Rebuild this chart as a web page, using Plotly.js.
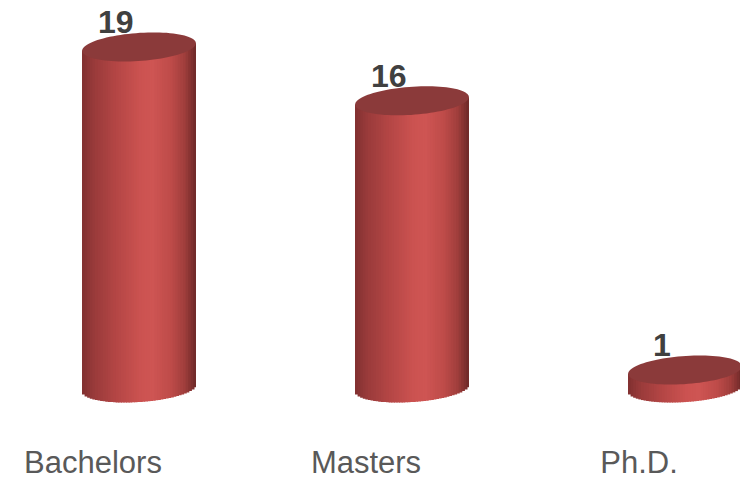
<!DOCTYPE html>
<html>
<head>
<meta charset="utf-8">
<script src="https://cdn.plot.ly/plotly-3.0.1.min.js"></script>
<style>html,body{margin:0;padding:0;background:#fff;}#chart{width:740px;height:481px;}</style>
</head>
<body>
<div id="chart"></div>
<script>
// ---- data ----
const categories = ['Bachelors', 'Masters', 'Ph.D.'];
const counts = [19, 16, 1];
const valueLabels = ['19', '16', '1'];

// ---- layout geometry (pixels) ----
const FIG_W = 740, FIG_H = 481;
const PLOT_BOTTOM = 441;      // pixel row of plot-area bottom
const ZERO_PX = 388;          // pixel row of value 0
const PX_PER_UNIT = 17.95;    // pixels per count
const FIRST_CENTER = 139, SPACING = 273;
const yMax = ZERO_PX / PX_PER_UNIT;
const yMin = -(PLOT_BOTTOM - ZERO_PX) / PX_PER_UNIT;
const xMin = -FIRST_CENTER / SPACING;
const xMax = (FIG_W - FIRST_CENTER) / SPACING;
const kx = 1 / SPACING, ky = 1 / PX_PER_UNIT;

// cylinder shape (pixels)
const A = 57, B = 14, TH = 4 * Math.PI / 180;
const N = 44;
const barW = 2 * A * kx;
const labelShift = -46 * kx;

function ellipseAt(u) {
  const c = Math.cos(TH), s = Math.sin(TH);
  const qa = s * s / (A * A) + c * c / (B * B);
  const qb = 2 * u * c * s * (1 / (A * A) - 1 / (B * B));
  const qc = u * u * (c * c / (A * A) + s * s / (B * B)) - 1;
  const disc = Math.max(0, qb * qb - 4 * qa * qc);
  const mid = -qb / (2 * qa);
  const low = (-qb - Math.sqrt(disc)) / (2 * qa);
  return {low, mid};
}

const stops = [
  [0.00, [128, 48, 48]],
  [0.10, [152, 58, 58]],
  [0.30, [180, 70, 69]],
  [0.52, [204, 83, 81]],
  [0.62, [206, 85, 83]],
  [0.78, [190, 75, 73]],
  [0.90, [160, 62, 60]],
  [1.00, [108, 40, 40]]
];
function colorAt(t) {
  for (let i = 0; i < stops.length - 1; i++) {
    const [t0, c0] = stops[i], [t1, c1] = stops[i + 1];
    if (t >= t0 && t <= t1) {
      const f = (t - t0) / (t1 - t0);
      const c = c0.map((v, k) => Math.round(v + (c1[k] - v) * f));
      return `rgb(${c[0]},${c[1]},${c[2]})`;
    }
  }
  return 'rgb(108,40,40)';
}

const xs = categories.map((_, i) => i);
const traces = [];
for (let i = 0; i < N; i++) {
  const t = (i + 0.5) / N;
  const u = -A + t * 2 * A;
  const e = ellipseAt(u);
  const base = e.low * ky;
  traces.push({
    type: 'bar',
    x: xs,
    base: counts.map(() => base),
    y: counts.map(v => v + e.mid * ky - base),
    offset: -barW / 2 + i * barW / N,
    width: barW / N + (i < N - 1 ? 0.004 : 0),
    marker: {color: colorAt(t), line: {width: 0}},
    hoverinfo: 'skip',
    showlegend: false
  });
}

const shapes = counts.map((v, j) => {
  let d = '';
  const M = 90;
  for (let k = 0; k <= M; k++) {
    const T = 2 * Math.PI * k / M;
    const px = A * Math.cos(T) * Math.cos(TH) - B * Math.sin(T) * Math.sin(TH);
    const py = A * Math.cos(T) * Math.sin(TH) + B * Math.sin(T) * Math.cos(TH);
    d += (k === 0 ? 'M' : 'L') + (j + px * kx).toFixed(5) + ',' + (v + py * ky).toFixed(5);
  }
  d += 'Z';
  return {type: 'path', xref: 'x', yref: 'y', path: d, fillcolor: '#8B3A3A',
          line: {width: 0}, layer: 'above'};
});

const annotations = counts.map((v, j) => ({
  x: j, y: v, xref: 'x', yref: 'y', text: valueLabels[j], showarrow: false,
  xshift: -23, yshift: 25,
  font: {family: 'Liberation Sans, Arial, sans-serif', size: 32, color: '#404040', weight: 'bold'}
}));

const layout = {
  width: FIG_W, height: FIG_H,
  margin: {l: 0, r: 0, t: 0, b: FIG_H - PLOT_BOTTOM, pad: 0},
  paper_bgcolor: '#ffffff', plot_bgcolor: '#ffffff',
  barmode: 'overlay',
  showlegend: false,
  xaxis: {
    range: [xMin, xMax], tickmode: 'array',
    tickvals: xs.map(i => i + labelShift), ticktext: categories,
    ticks: '', showgrid: false, zeroline: false, showline: false, fixedrange: true,
    tickfont: {family: 'Liberation Sans, Arial, sans-serif', size: 31, color: '#595959'}
  },
  yaxis: {range: [yMin, yMax], visible: false, showgrid: false, zeroline: false, fixedrange: true},
  shapes, annotations
};

Plotly.newPlot('chart', traces, layout, {staticPlot: true, displayModeBar: false});
</script>
</body>
</html>
